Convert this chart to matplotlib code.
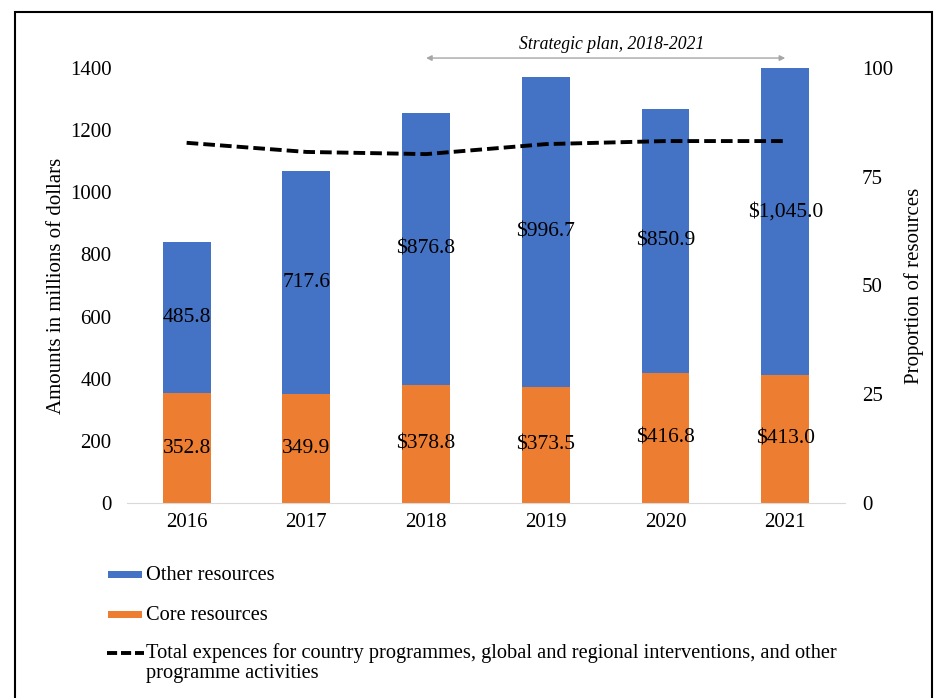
import matplotlib
matplotlib.use('Agg')
import matplotlib.pyplot as plt
from matplotlib.lines import Line2D
from matplotlib.patches import Rectangle
import numpy as np

years = ['2016', '2017', '2018', '2019', '2020', '2021']
core = [352.8, 349.9, 378.8, 373.5, 416.8, 413.0]
other = [485.8, 717.6, 876.8, 996.7, 850.9, 1045.0]
proportion = [82.8, 80.7, 80.2, 82.5, 83.2, 83.2]
dollar_sign = [False, False, True, True, True, True]

BLUE = '#4472C4'
ORANGE = '#ED7D31'
W, H = 939, 698

plt.rcParams['font.family'] = ['Liberation Serif', 'DejaVu Serif']

fig = plt.figure(figsize=(9.39, 6.98), dpi=100)
ax = fig.add_axes([0.135, 0.2794, 0.765, 0.6232])
x = np.arange(len(years))

ax.bar(x, core, width=0.4, color=ORANGE, zorder=2)
ax.bar(x, other, width=0.4, bottom=core, color=BLUE, zorder=2)


def fmt(v, d):
    return f'${v:,.1f}' if d else f'{v:.1f}'


for i in range(len(years)):
    ax.text(x[i], core[i] / 2, fmt(core[i], dollar_sign[i]), ha='center', va='center',
            fontsize=15.5, zorder=4)
    ax.text(x[i], core[i] + other[i] / 2, fmt(other[i], dollar_sign[i]), ha='center',
            va='center', fontsize=15.5, zorder=4)

ax.set_xlim(-0.5, 5.5)
ax.set_ylim(0, 1400)
ax.set_yticks(range(0, 1401, 200))
ax.set_xticks(x)
ax.set_xticklabels(years)
ax.tick_params(length=0, labelsize=15, pad=7)
ax.tick_params(axis='y', pad=11)
for s in ['top', 'right', 'left']:
    ax.spines[s].set_visible(False)
ax.spines['bottom'].set_color('#d9d9d9')
ax.set_ylabel('Amounts in millions of dollars', fontsize=15, labelpad=3)

ax2 = ax.twinx()
ax2.plot(x, proportion, color='black', lw=2.8, ls=(0, (3, 1.3)), zorder=5)
ax2.set_ylim(0, 100)
ax2.set_yticks([0, 25, 50, 75, 100])
ax2.tick_params(length=0, labelsize=15, pad=12)
for s in ax2.spines.values():
    s.set_visible(False)
ax2.set_ylabel('Proportion of resources', fontsize=15, labelpad=8)

ax.annotate('', xy=(5, 1432), xytext=(2, 1432), xycoords='data', annotation_clip=False,
            arrowprops=dict(arrowstyle='<|-|>', color='#a6a6a6', lw=1.0,
                            mutation_scale=8, shrinkA=0, shrinkB=0))
ax.text(3.55, 1475, 'Strategic plan, 2018-2021', ha='center', va='center',
        fontsize=12.7, style='italic', clip_on=False)

# legend drawn by hand (pixel layout of the original)
fy = lambda py: 1 - py / H
fx = lambda px: px / W
leg_fs = 14.7
fig.add_artist(Rectangle((fx(108), fy(578)), 34 / W, 7 / H, transform=fig.transFigure,
                         facecolor=BLUE, edgecolor='none'))
fig.text(fx(146), fy(580), 'Other resources', fontsize=leg_fs, va='baseline')
fig.add_artist(Rectangle((fx(108), fy(618)), 34 / W, 7 / H, transform=fig.transFigure,
                         facecolor=ORANGE, edgecolor='none'))
fig.text(fx(146), fy(620), 'Core resources', fontsize=leg_fs, va='baseline')
fig.add_artist(Line2D([fx(107), fx(144)], [fy(653), fy(653)], transform=fig.transFigure,
                      color='black', lw=2.8, ls=(0, (2.6, 1.0))))
fig.text(fx(146), fy(658), 'Total expences for country programmes, global and regional '
         'interventions, and other', fontsize=leg_fs, va='baseline')
fig.text(fx(146), fy(678), 'programme activities', fontsize=leg_fs, va='baseline')

fig.add_artist(Rectangle((0.016, -0.05), 0.9765, 1.033, transform=fig.transFigure,
                         fill=False, edgecolor='black', lw=1.5))

fig.savefig('out.png', dpi=100)
